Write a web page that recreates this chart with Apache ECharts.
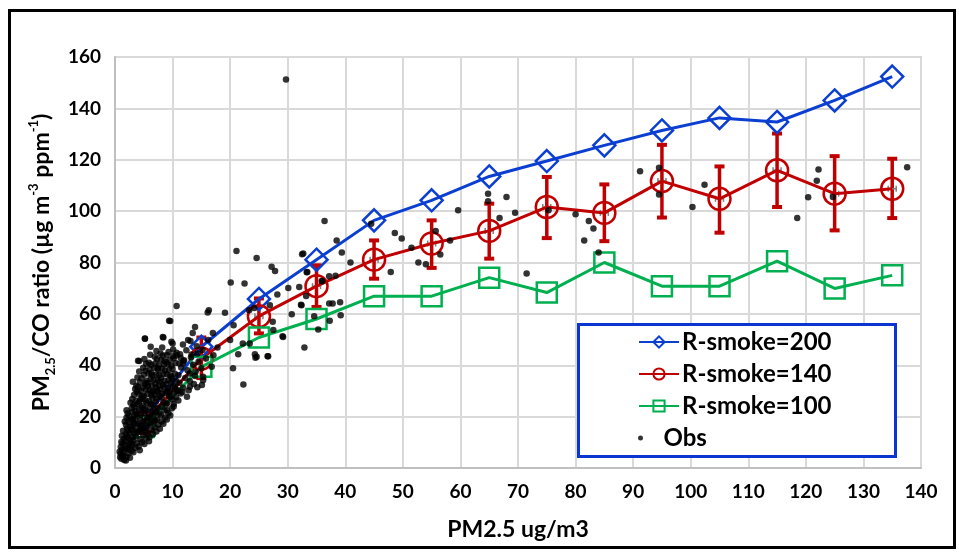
<!DOCTYPE html>
<html>
<head>
<meta charset="utf-8">
<script src="https://cdn.jsdelivr.net/npm/echarts@6/dist/echarts.min.js"></script>
<style>
html,body{margin:0;padding:0;background:#fff;}
#chart{width:959px;height:552px;}
</style>
</head>
<body>
<div id="chart"></div>
<script>
// ---------- data ----------
var xBins = [5, 15, 25, 35, 45, 55, 65, 75, 85, 95, 105, 115, 125, 135];
var smoke200 = [19, 47.2, 65.8, 81.1, 96.4, 104.2, 113.5, 119.5, 125.6, 131.4, 136.3, 134.7, 143.1, 152.4];
var smoke140 = [17.5, 42.6, 59.1, 70.8, 81.1, 87.4, 92.3, 101.6, 99.3, 111.7, 104.8, 115.9, 106.8, 108.7];
var smoke140High = [20, 50.8, 66, 78.9, 88.6, 96.4, 102.9, 113.3, 110.4, 125.8, 117.4, 130.2, 121.4, 120.4];
var smoke140Low = [15, 35, 52.4, 62.7, 73.7, 77.9, 81.5, 89.5, 88.3, 97.5, 91.6, 101.6, 92.5, 97.3];
var smoke100 = [16, 39.4, 50.8, 58, 66.9, 66.9, 74.1, 68.3, 80, 70.8, 70.8, 80.5, 69.9, 75];
var seriesNames = ['R-smoke=200', 'R-smoke=140', 'R-smoke=100', 'Obs'];
var xTicks = [0, 140, 10];
var yTicks = [0, 160, 20];

// observations [PM2.5, ratio]
var obsPoints = [
[0.9,4.2],[1.0,5.5],[1.1,3.6],[1.2,7.1],[0.8,6.3],[1.3,9.4],[1.4,5.0],[1.0,8.2],[1.5,11.3],[1.2,12.6],[1.4,14.5],[1.1,10.1],[1.6,6.8],[1.7,8.9],[1.3,4.7],
[1.8,10.5],[1.9,13.2],[2.0,7.6],[2.1,15.4],[2.2,11.8],[2.3,17.9],[2.0,19.6],[2.4,9.3],[2.5,13.7],[1.9,16.8],[2.2,21.3],[2.6,16.1],[2.4,20.2],[2.1,12.4],[2.5,8.4],[1.7,18.1],[2.3,14.6],[2.7,11.0],[2.0,22.5],
[2.8,18.7],[2.9,14.9],[3.0,21.8],[3.1,12.2],[3.2,24.6],[3.3,17.4],[3.0,26.9],[3.4,20.5],[2.9,23.3],[3.5,15.6],[3.1,19.2],[3.3,28.4],[2.8,9.8],[3.4,23.8],[3.2,10.6],[3.6,22.1],[3.0,16.3],[2.7,25.4],[3.5,30.8],[3.3,13.5],[3.6,18.4],[3.7,26.2],[3.1,33.6],
[3.8,21.0],[3.9,24.9],[4.0,17.2],[4.1,28.9],[4.2,22.8],[4.0,31.5],[4.3,19.6],[4.4,26.7],[3.9,35.2],[4.5,30.1],[4.1,14.3],[4.3,33.4],[4.2,37.6],[3.8,29.7],[4.6,23.5],[4.4,16.5],[4.0,41.8],[4.7,27.8],[4.5,20.7],[4.6,34.9],[3.7,31.9],[4.8,31.2],[4.2,25.6],
[4.9,24.2],[5.0,28.1],[5.1,21.4],[5.2,32.5],[5.0,36.3],[5.3,26.4],[5.4,30.6],[5.1,18.2],[5.5,34.0],[4.9,39.0],[5.2,23.0],[5.6,28.8],[5.3,37.9],[5.4,22.3],[5.0,15.7],[5.7,31.8],[5.5,25.3],[5.1,42.4],[5.8,36.8],[5.6,19.5],[5.2,50.3],[5.4,40.6],[4.8,27.0],[5.3,33.1],
[5.9,26.0],[6.0,30.3],[6.1,23.6],[6.2,34.7],[6.0,38.5],[6.3,28.2],[6.4,32.1],[6.1,19.9],[6.5,36.1],[5.9,41.0],[6.2,25.0],[6.6,30.0],[6.3,40.2],[6.4,21.8],[6.5,27.3],[6.0,17.0],[6.7,34.4],[6.1,44.1],[6.6,24.7],[6.8,38.9],[6.4,29.4],[6.2,47.2],[5.8,33.0],[6.3,36.9],
[6.9,28.5],[7.0,32.8],[7.1,25.9],[7.2,36.4],[7.0,40.8],[7.3,30.2],[7.4,34.3],[7.1,21.7],[7.5,38.3],[6.9,43.3],[7.2,27.1],[7.6,32.0],[7.3,42.4],[7.4,23.4],[7.5,29.5],[7.7,36.2],[7.0,18.6],[7.6,40.0],[7.8,27.9],[7.2,45.5],[7.4,38.8],[7.1,31.3],
[7.9,30.7],[8.0,34.9],[8.1,27.5],[8.2,38.7],[8.0,42.1],[8.3,32.4],[8.4,36.6],[8.1,23.8],[8.5,40.3],[7.9,44.6],[8.2,29.0],[8.6,34.0],[8.3,43.8],[8.4,25.6],[8.5,31.5],[8.7,38.0],[8.0,20.5],[8.8,29.3],[8.2,46.9],[8.6,41.7],[7.8,33.7],
[8.9,32.6],[9.0,36.5],[9.1,29.8],[9.2,40.4],[9.0,44.0],[9.3,34.2],[9.4,38.2],[9.1,25.4],[9.5,42.0],[9.2,31.0],[9.6,36.0],[9.3,45.2],[9.4,27.8],[9.7,33.3],[9.0,22.6],[9.8,39.8],[9.5,29.9],[8.9,41.2],
[9.9,34.8],[10.0,38.6],[10.1,31.8],[10.2,42.7],[10.3,29.5],[10.4,36.7],[10.5,40.9],[10.0,26.8],[10.6,33.9],[10.2,23.9],[10.7,44.9],[10.8,30.4],[10.1,46.1],
[11.0,36.1],[11.2,33.2],[11.5,39.1],[11.7,29.6],[12.0,41.9],[12.2,35.0],[12.4,45.8],[12.6,38.1],[13.0,33.8],[13.2,43.1],[13.6,40.2],[14.0,37.5],[14.3,44.6],[11.4,42.9],[12.8,30.3],[11.8,48.1],
[1.6,3.1],[2.0,4.4],[2.3,5.6],[2.6,4.0],[2.9,6.7],[1.9,2.9],[2.4,7.3],[3.0,8.8],
[3.2,6.1],[3.5,7.9],[3.8,9.6],[4.1,8.4],[4.4,11.2],[4.7,10.0],[3.6,12.3],[4.9,12.9],[4.3,6.9],[3.9,13.8],[4.6,14.6],
[5.1,9.3],[5.4,11.6],[5.7,13.4],[6.0,12.0],[6.3,14.8],[6.6,13.1],[5.5,16.2],[6.9,15.9],[5.9,10.4],[6.2,17.6],[6.8,18.3],[5.3,14.1],[4.8,17.7],[5.8,19.8],[4.5,15.3],
[7.2,14.2],[7.5,16.8],[7.8,15.3],[8.1,18.1],[8.4,17.2],[8.7,19.7],[9.0,18.9],[9.3,21.3],[9.6,20.4],[7.3,19.0],[8.6,22.4],[9.9,23.3],[7.7,21.2],[8.9,24.8],[6.7,20.9],[7.0,23.1],
[10.2,24.9],[10.6,27.4],[11.0,26.3],[11.4,29.0],[11.8,31.2],[10.9,29.9],
[5.2,50.4],[8.4,50.8],[10.0,48.5],[4.2,41.7],[9.4,57.3],[8.3,51.0],[9.8,49.1],
[10.7,63.1],[16.3,61.4],[16.1,60.5],[19.1,60.4],[9.6,57.2],[13.9,54.9],[13.5,52.6],[12.7,49.8],[13.1,49.4],[17.0,52.6],[20.6,55.6],[23.3,61.4],[24.2,62.3],[26.9,63.4],[27.4,56.9],[27.5,53.7],[29.2,51.0],[30.7,59.9],[32.9,46.9],[32.0,70.5],
[20.0,49.8],[17.8,46.9],[16.2,49.8],[21.4,44.3],[22.2,48.5],[23.4,48.5],[24.6,43.3],[26.5,43.5],[20.5,38.8],[22.3,32.5],[16.8,39.4],[15.0,38.8],[15.3,35.5],[15.3,34.2],[14.5,41.3],[15.8,42.6],[14.2,47.4],[15.2,45.9],[17.1,43.9],[13.3,44.2],[11.9,41.7],[11.8,40.7],[13.7,32.7],[13.0,31.6],[14.3,31.4],[15.1,32.3],[13.9,35.8],[13.0,36.8],[11.2,40.7],[10.1,43.5],[10.7,43.9],[11.3,44.3],[9.8,35.5],[10.4,31.6],[9.6,27.7],[12.5,27.7],
[24.3,44.3],[24.4,42.9],[26.6,43.5],[29.1,51.3],
[21.1,84.5],[24.6,81.8],[20.1,72.2],[22.5,71.8],
[29.7,151.2],[27.2,78.3],[27.8,76.7],[28.2,67.5],[30.1,70.1],[32.5,83.2],[33.3,76.2],[32.3,63.6],[36.4,96.2],[38.5,88.6],[39.4,83.9],[40.9,80.0],[37.2,74.6],[38.3,74.8],[35.9,72.8],[37.2,64.0],[37.8,64.0],[39.1,64.5],
[44.5,95.1],[32.7,83.5],[33.4,76.3],[36.0,72.7],[33.2,67.0],[32.4,63.4],[34.6,59.1],[39.2,59.5],[37.3,57.3],[35.3,53.9],
[47.9,76.3],[48.6,91.5],[49.8,89.3],[51.5,85.7],[52.7,80.0],[54.0,79.3],[55.7,92.3],[56.5,83.1],[58.2,88.6],[59.6,100.3],[64.8,106.8],[64.8,103.8],[66.8,97.3],[68.0,105.5],[69.5,99.4],[71.5,75.7],[75.3,100.3],[80.0,98.8],[81.5,88.6],[82.3,96.2],[83.1,93.2],[84.0,83.9],
[91.2,115.5],[94.5,116.9],[94.5,106.5],[102.4,110.3],[100.3,101.6],[118.5,97.3],[120.4,105.4],[121.9,111.8],[122.2,116.2],[124.7,105.5],[137.6,117.1]
];

// ---------- chart ----------
var FONT = 'Lato';
var BLUE = '#0b3fd1', RED = '#c00000', GREEN = '#00b050';

function zip(xs, ys) { return xs.map(function (x, i) { return [x, ys[i]]; }); }
var errRows = xBins.map(function (x, i) { return [x, smoke140Low[i], smoke140High[i], smoke140[i]]; });

var chart = echarts.init(document.getElementById('chart'), null, { renderer: 'canvas' });

var option = {
  backgroundColor: '#ffffff',
  animation: false,
  grid: { left: 115, right: 38, top: 57, bottom: 84, show: true, borderColor: '#a6a6a6', borderWidth: 1.5 },
  xAxis: {
    type: 'value', min: xTicks[0], max: xTicks[1], interval: xTicks[2],
    name: 'PM2.5 ug/m3', nameLocation: 'middle', nameGap: 50,
    nameTextStyle: { fontFamily: FONT, fontWeight: 'bold', fontSize: 23, color: '#000' },
    axisLine: { show: true, lineStyle: { color: '#bfbfbf', width: 2 } },
    axisTick: { show: false },
    axisLabel: { fontFamily: FONT, fontWeight: 'bold', fontSize: 19, color: '#000', margin: 14 },
    splitLine: { show: true, lineStyle: { color: '#d9d9d9', width: 2 } }
  },
  yAxis: {
    type: 'value', min: yTicks[0], max: yTicks[1], interval: yTicks[2],
    name: '{a|PM}{s|2.5}{a|/CO ratio (µg m}{p|-3}{a| ppm}{p|-1}{a|)}',
    nameLocation: 'middle', nameRotate: 90, nameGap: 58,
    nameTextStyle: {
      color: '#000',
      rich: {
        a: { fontFamily: FONT, fontWeight: 'bold', fontSize: 23, lineHeight: 30, verticalAlign: 'middle', color: '#000' },
        s: { fontFamily: FONT, fontWeight: 'bold', fontSize: 13, lineHeight: 13, verticalAlign: 'bottom', color: '#000' },
        p: { fontFamily: FONT, fontWeight: 'bold', fontSize: 13, lineHeight: 13, verticalAlign: 'top', color: '#000' }
      }
    },
    axisLine: { show: true, lineStyle: { color: '#bfbfbf', width: 2 } },
    axisTick: { show: false },
    axisLabel: { fontFamily: FONT, fontWeight: 'bold', fontSize: 19, color: '#000', margin: 14 },
    splitLine: { show: true, lineStyle: { color: '#d9d9d9', width: 2 } }
  },
  legend: [
    {
      data: seriesNames.slice(0, 3), orient: 'vertical', left: 638, top: 326, padding: 0, itemGap: 0,
      itemWidth: 40, itemHeight: 14,
      textStyle: { fontFamily: FONT, fontWeight: 'bold', fontSize: 24, color: '#000', lineHeight: 32, padding: [0, 0, 0, -2] }
    },
    {
      data: [seriesNames[3]], orient: 'vertical', left: 638, top: 422, padding: 0,
      itemWidth: 40, itemHeight: 5,
      textStyle: { fontFamily: FONT, fontWeight: 'bold', fontSize: 24, color: '#000', lineHeight: 32, padding: [0, 0, 0, -2] }
    }
  ],
  graphic: [
    { type: 'rect', left: 7, top: 8, shape: { width: 945, height: 537 }, style: { fill: 'none', stroke: '#000', lineWidth: 3 }, silent: true, z: 100 },
    { type: 'rect', left: 577, top: 323, shape: { width: 317, height: 132 }, style: { fill: '#fff', stroke: '#0a35d0', lineWidth: 3 }, silent: true, z: 1 }
  ],
  series: [
    {
      name: seriesNames[0], type: 'line', data: zip(xBins, smoke200), z: 3,
      symbol: 'diamond', symbolSize: 22,
      lineStyle: { color: BLUE, width: 3 },
      itemStyle: { color: 'rgba(255,255,255,0)', borderColor: BLUE, borderWidth: 2.5 }
    },
    {
      name: 'err140', type: 'custom', data: errRows, z: 2,
      encode: { x: 0, y: [1, 2] },
      renderItem: function (params, api) {
        var x = api.value(0);
        var top = api.coord([x, api.value(2)]);
        var bot = api.coord([x, api.value(1)]);
        var mid = api.coord([x, api.value(3)]);
        var w = 5, g = 4;
        return {
          type: 'group',
          children: [
            { type: 'line', shape: { x1: top[0], y1: top[1], x2: bot[0], y2: bot[1] }, style: { stroke: RED, lineWidth: 3.5 } },
            { type: 'line', shape: { x1: top[0] - w, y1: top[1], x2: top[0] + w, y2: top[1] }, style: { stroke: RED, lineWidth: 4 } },
            { type: 'line', shape: { x1: bot[0] - w, y1: bot[1], x2: bot[0] + w, y2: bot[1] }, style: { stroke: RED, lineWidth: 4 } },
            { type: 'line', shape: { x1: mid[0] - g, y1: mid[1], x2: mid[0] + g, y2: mid[1] }, style: { stroke: '#808080', lineWidth: 1.5 } },
            { type: 'line', shape: { x1: mid[0] - g, y1: mid[1] - 3, x2: mid[0] - g, y2: mid[1] + 3 }, style: { stroke: '#808080', lineWidth: 1.5 } },
            { type: 'line', shape: { x1: mid[0] + g, y1: mid[1] - 3, x2: mid[0] + g, y2: mid[1] + 3 }, style: { stroke: '#808080', lineWidth: 1.5 } }
          ]
        };
      }
    },
    {
      name: seriesNames[1], type: 'line', data: zip(xBins, smoke140), z: 3,
      symbol: 'circle', symbolSize: 22,
      lineStyle: { color: RED, width: 3 },
      itemStyle: { color: 'rgba(255,255,255,0)', borderColor: RED, borderWidth: 2.5 }
    },
    {
      name: seriesNames[2], type: 'line', data: zip(xBins, smoke100), z: 3,
      symbol: 'rect', symbolSize: 20,
      lineStyle: { color: GREEN, width: 3 },
      itemStyle: { color: 'rgba(255,255,255,0)', borderColor: GREEN, borderWidth: 2.5 }
    },
    {
      name: seriesNames[3], type: 'scatter', data: obsPoints, z: 4,
      symbol: 'circle', symbolSize: 6.5,
      itemStyle: { color: '#000' }
    }
  ]
};
chart.setOption(option);
</script>
</body>
</html>
